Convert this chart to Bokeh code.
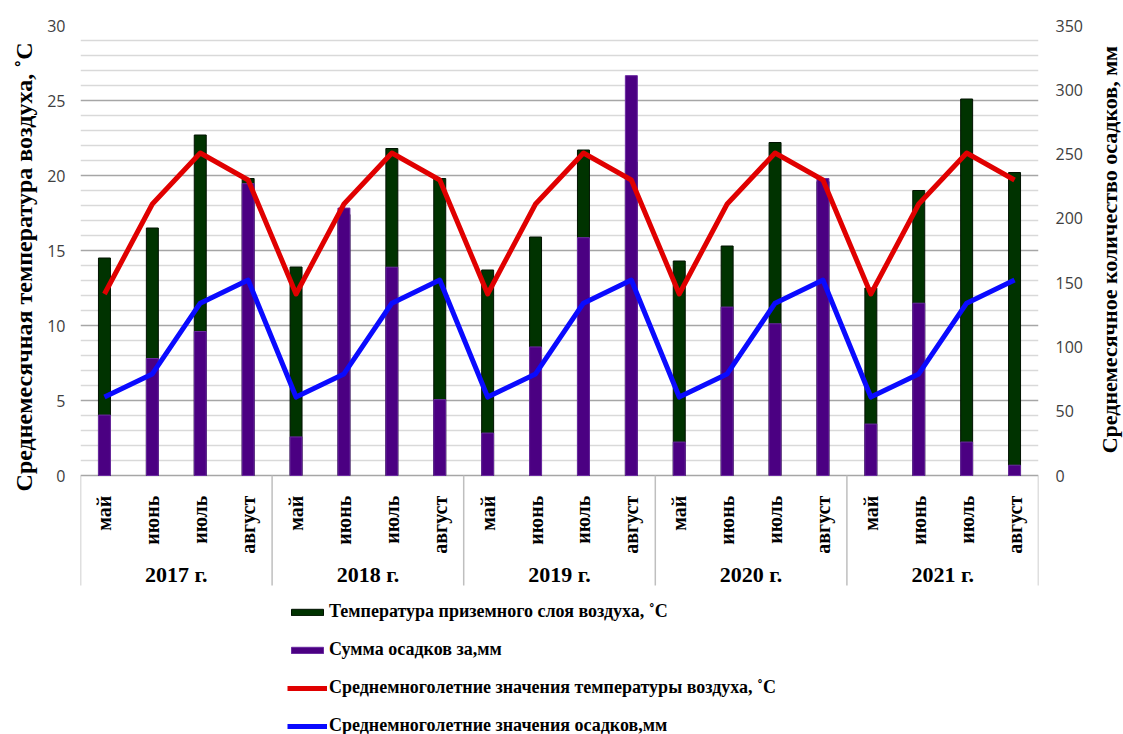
import math
from bokeh.plotting import figure
from bokeh.layouts import row
from bokeh.models import (FactorRange, Range1d, LinearAxis, FixedTicker,
                          ColumnDataSource, Legend, LegendItem)
from bokeh.core.properties import value
from bokeh.embed import file_html
from bokeh.resources import INLINE

# ---------------- data ----------------
years = ["2017 г.", "2018 г.", "2019 г.", "2020 г.", "2021 г."]
months = ["май", "июнь", "июль", "август"]

# air temperature of the surface layer, °C (20 months: May..Aug for each year)
temperature = [14.5, 16.5, 22.7, 19.8,
               13.9, 17.4, 21.8, 19.8,
               13.7, 15.9, 21.7, 20.9,
               14.3, 15.3, 22.2, 19.6,
               12.5, 19.0, 25.1, 20.2]
# precipitation sum, mm
precipitation = [47, 91, 112, 227,
                 30, 208, 162, 59,
                 33, 100, 185, 311,
                 26, 131, 118, 231,
                 40, 134, 26, 8]
# long-term means (May..Aug)
temp_norm = [12.1, 18.1, 21.5, 19.7]
precip_norm = [61, 79, 134, 152]

temp_ticks = [0, 5, 10, 15, 20, 25, 30]
precip_ticks = [0, 50, 100, 150, 200, 250, 300, 350]

label_temp = "Температура приземного слоя воздуха, ˚С"
label_precip = "Сумма осадков за,мм"
label_tnorm = "Среднемноголетние значения температуры воздуха, ˚С"
label_pnorm = "Среднемноголетние значения осадков,мм"
ytitle_left = "Среднемесячная температура воздуха, ˚С"
ytitle_right = "Среднемесячное количество осадков, мм"

# ---------------- layout constants ----------------
factors = [(y, m) for y in years for m in months]
TMAX = 30.0
PMAX = 350.0
H = 734
TOP = 25
PX = 15.0                          # pixels per °C
YMIN = TMAX - (H - TOP) / PX       # frame reaches to the bottom (category box + legend)
BAND = -110.0 / PX                 # bottom of the category box
MONTH_Y = -1.35
YEAR_Y = -6.6
LW, RW = 44, 30                    # side figures holding the axis titles
PW = 1123 - LW - RW                # main figure width
FRAME_L, FRAME_R = 80, 1038        # frame edges in page pixels

SERIF = "Liberation Serif"
GREEN, GREEN_EDGE = "#003300", "#001200"
PURPLE, PURPLE_EDGE = "#4b0082", "#6a2aa0"
RED, BLUE = "#e00000", "#0a0aff"

src = ColumnDataSource(dict(
    x=factors,
    temp=temperature,
    prec=precipitation,
    tnorm=[temp_norm[i % 4] for i in range(len(factors))],
    pnorm=[precip_norm[i % 4] for i in range(len(factors))],
    month=[f[1] for f in factors],
))

# ---------------- main chart ----------------
p = figure(width=PW, height=H,
           x_range=FactorRange(*factors, factor_padding=0, group_padding=0,
                               subgroup_padding=0, range_padding=0),
           y_range=Range1d(YMIN, TMAX),
           x_axis_location=None, output_backend="svg", toolbar_location=None,
           min_border_left=FRAME_L - LW, min_border_right=LW + PW - FRAME_R,
           min_border_top=TOP, min_border_bottom=0)
p.outline_line_color = None
p.xgrid.visible = False
p.extra_y_ranges = {"mm": Range1d(YMIN * PMAX / TMAX, PMAX)}


def style_axis(a):
    a.axis_line_color = None
    a.major_tick_line_color = None
    a.minor_tick_line_color = None
    a.major_tick_out = 0
    a.major_tick_in = 0
    a.minor_tick_out = 0
    a.minor_tick_in = 0
    a.major_label_text_font = "Open Sans"
    a.major_label_text_font_size = "16px"
    a.major_label_text_color = "#404040"
    a.major_label_standoff = 15


lt = FixedTicker(ticks=temp_ticks,
                 minor_ticks=[v for v in range(1, 30) if v % 5 != 0])
ax = p.yaxis[0]
ax.ticker = lt
ax.bounds = (0, TMAX)
style_axis(ax)

p.ygrid.ticker = lt
p.ygrid.grid_line_color = "#a6a6a6"
p.ygrid.grid_line_width = 1.5
p.ygrid.minor_grid_line_color = "#d9d9d9"
p.ygrid.minor_grid_line_width = 1.5

rax = LinearAxis(y_range_name="mm", ticker=FixedTicker(ticks=precip_ticks),
                 bounds=(0, PMAX))
style_axis(rax)
rax.major_label_standoff = 17
p.add_layout(rax, "right")

r_t = p.vbar(x="x", top="temp", bottom=0, width=0.25, source=src,
             fill_color=GREEN, line_color=GREEN_EDGE, line_width=1)
r_p = p.vbar(x="x", top="prec", bottom=0, width=0.25, source=src,
             y_range_name="mm",
             fill_color=PURPLE, line_color=PURPLE_EDGE, line_width=1)
r_tn = p.line(x="x", y="tnorm", source=src, line_color=RED, line_width=5,
              line_join="round")
r_pn = p.line(x="x", y="pnorm", source=src, line_color=BLUE, line_width=5,
              line_join="round", y_range_name="mm")

# category box: separators at group edges (synthetic units), month and year labels
sep_x = [i * len(months) for i in range(len(years) + 1)]
p.segment(x0=sep_x, y0=[0] * len(sep_x), x1=sep_x, y1=[BAND] * len(sep_x),
          line_color="#bfbfbf", line_width=1.5)
p.text(x="x", y=MONTH_Y, text="month", source=src, angle=math.pi / 2,
       text_align="right", text_baseline="middle",
       text_font=value(SERIF), text_font_style="bold",
       text_font_size="20px", text_color="#000000")
p.text(x=years, y=[YEAR_Y] * len(years), text=years,
       text_align="center", text_baseline="middle",
       text_font=value(SERIF), text_font_style="bold",
       text_font_size="22px", text_color="#000000")

legend = Legend(items=[
    LegendItem(label=label_temp, renderers=[r_t]),
    LegendItem(label=label_precip, renderers=[r_p]),
    LegendItem(label=label_tnorm, renderers=[r_tn]),
    LegendItem(label=label_pnorm, renderers=[r_pn]),
], location=(287 - FRAME_L, -2), orientation="vertical")
legend.label_text_font = SERIF
legend.label_text_font_style = "bold"
legend.label_text_font_size = "18px"
legend.label_text_color = "#000000"
legend.glyph_width = 40
legend.glyph_height = 8
legend.label_height = 21
legend.label_standoff = 2
legend.spacing = 17
legend.padding = 0
legend.margin = 0
legend.border_line_color = None
legend.background_fill_alpha = 0
p.add_layout(legend)


# ---------------- axis titles (own narrow figures, same vertical scale) ----------------
def title_fig(width, text, x, y, size):
    f = figure(width=width, height=H, x_range=Range1d(0, width),
               y_range=Range1d(YMIN, TMAX + TOP / PX), x_axis_location=None,
               y_axis_location=None, output_backend="svg",
               toolbar_location=None, min_border_left=0, min_border_right=0,
               min_border_top=0, min_border_bottom=0)
    f.outline_line_color = None
    f.xgrid.visible = False
    f.ygrid.visible = False
    f.text(x=[x], y=[y], text=[text], angle=math.pi / 2,
           text_align="center", text_baseline="middle",
           text_font=value(SERIF), text_font_style="bold",
           text_font_size=size, text_color="#000000")
    return f


lfig = title_fig(LW, ytitle_left, 23, TMAX / 2, "24px")
rfig = title_fig(RW, ytitle_right, 16, TMAX / 2 + 1.2, "22px")

page = row(lfig, p, rfig, spacing=0)
open("out.html", "w").write(file_html(page, INLINE))
